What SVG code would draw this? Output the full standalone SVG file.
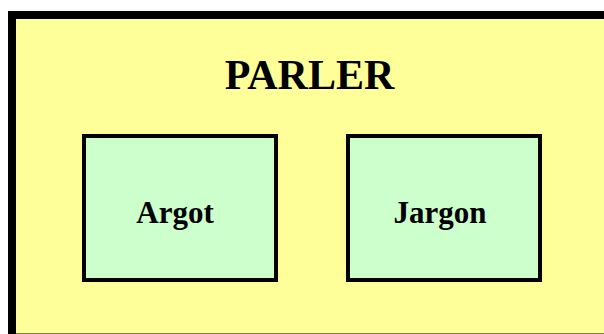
<svg xmlns="http://www.w3.org/2000/svg" width="604" height="334" viewBox="0 0 604 334">
<style>
.lbl{font-family:"Liberation Serif","Times New Roman",serif;font-weight:bold;fill:#000;text-anchor:middle}
.inner{fill:#CCFFCC;stroke:#000;stroke-width:4}
</style>
<rect x="0" y="0" width="604" height="334" fill="#FFFFFF"/>
<g id="parler">
<rect x="12" y="15" width="600" height="322.5" fill="#FFFF99" stroke="#000" stroke-width="8"/>
<text class="lbl" x="309.5" y="89" font-size="42">PARLER</text>
</g>
<g id="argot">
<rect class="inner" x="84" y="136" width="192" height="144"/>
<text class="lbl" x="175" y="223" font-size="31">Argot</text>
</g>
<g id="jargon">
<rect class="inner" x="348" y="136" width="192" height="144"/>
<text class="lbl" x="440" y="223" font-size="31">Jargon</text>
</g>
<g id="connectors"></g>
</svg>
